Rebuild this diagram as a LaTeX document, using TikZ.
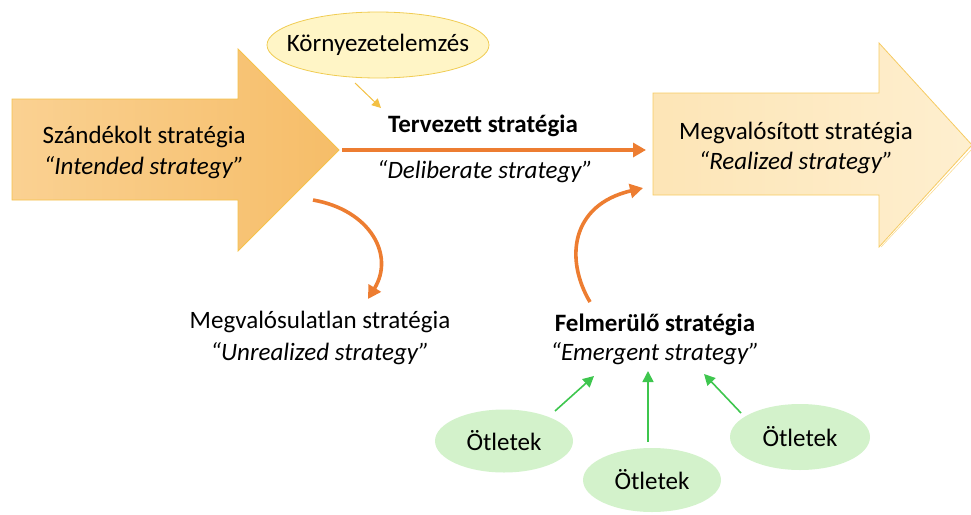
\documentclass[tikz,border=0pt]{standalone}
\usepackage{fontspec}
\setmainfont{Carlito}
\usetikzlibrary{arrows.meta,shapes.geometric}
\definecolor{arrowfillA}{HTML}{FAD192}
\definecolor{arrowfillB}{HTML}{F6BD68}
\definecolor{arrowedge}{HTML}{F5C24A}
\definecolor{realA}{HTML}{FDE5B6}
\definecolor{realB}{HTML}{FEEFCF}
\definecolor{realedge}{HTML}{F6CB62}
\definecolor{envfill}{HTML}{FFF5C6}
\definecolor{envedge}{HTML}{F0CC52}
\definecolor{flow}{HTML}{ED7D31}
\definecolor{ideafill}{HTML}{D3F2CB}
\definecolor{ideaarrow}{HTML}{3EC64E}
\definecolor{envarrow}{HTML}{F3C043}
\tikzset{
  lbl/.style={font=\fontsize{25}{30}\selectfont, inner sep=0pt},
  lblit/.style={font=\fontsize{25}{30}\selectfont\itshape, inner sep=0pt},
  lblbf/.style={font=\fontsize{25}{30}\selectfont\bfseries, inner sep=0pt},
  idea/.style={ellipse, fill=ideafill, minimum width=138pt, minimum height=63pt, inner xsep=-4pt, inner ysep=0pt, font=\fontsize{25}{30}\selectfont},
  flowarrow/.style={draw=flow, line width=3.6pt, -{Triangle[length=13pt,width=14pt]}},
  ideaflow/.style={draw=ideaarrow, line width=1.6pt, -{Triangle[length=11pt,width=11pt]}},
}
\begin{document}
\begin{tikzpicture}[x=1pt,y=-1pt]
\useasboundingbox (0,0) rectangle (971,514);
% intended strategy block arrow
\shade[left color=arrowfillA, right color=arrowfillB, draw=arrowedge, line width=0.8pt]
  (12,99) -- (238,99) -- (238,49) -- (339,150) -- (238,251) -- (238,200) -- (12,200) -- cycle;
\node[lbl] (intended) at (144,137) {Szándékolt stratégia};
\node[lblit] (intendedEn) at (144,168) {“Intended strategy”};
\coordinate (intendedTip) at (342,150);
% realized strategy block arrow
\shade[left color=realA, right color=realB, draw=realedge, line width=0.8pt]
  (653,93) -- (879,93) -- (879,43) -- (972,145) -- (879,247) -- (879,195) -- (653,195) -- cycle;
\draw[realedge!70, line width=0.6pt] (881,247) -- (972,149);
\node[lbl] (realized) at (796,133) {Megvalósított stratégia};
\node[lblit] (realizedEn) at (796,163) {“Realized strategy”};
\coordinate (realizedIn) at (646,150);
% environmental analysis
\node[ellipse, fill=envfill, draw=envedge, line width=0.8pt, minimum width=222pt, minimum height=66pt, inner xsep=-14pt, inner ysep=0pt, font=\fontsize{25}{30}\selectfont] (env) at (378,45) {Környezetelemzés};
% deliberate strategy
\node[lblbf] (deliberate) at (483,126) {Tervezett stratégia};
\node[lblit] (deliberateEn) at (485,172) {“Deliberate strategy”};
\coordinate (envEnd) at (381,108);
\draw[envarrow, line width=1pt, -{Triangle[length=9pt,width=9pt]}] (355,83) -- (envEnd);
\draw[flowarrow] (intendedTip) -- (realizedIn);
% unrealized strategy
\node[lbl] (unrealized) at (320,322) {Megvalósulatlan stratégia};
\node[lblit] (unrealizedEn) at (320,354) {“Unrealized strategy”};
\coordinate (unrStart) at (313,200);
\coordinate (unrEnd) at (368,299);
\draw[flowarrow] (unrStart) .. controls (370,210) and (395,255) .. (unrEnd);
% emergent strategy
\node[lblbf] (emergent) at (655,325) {Felmerülő stratégia};
\node[lblit] (emergentEn) at (655,354) {“Emergent strategy”};
\coordinate (emStart) at (590,302);
\coordinate (emEnd) at (643,188);
\draw[flowarrow] (emStart) .. controls (565,260) and (570,205) .. (emEnd);
% ideas
\node[idea] (idea1) at (504,441) {Ötletek};
\node[idea, minimum height=64pt] (idea2) at (652,480) {Ötletek};
\node[idea, minimum width=140pt, minimum height=66pt] (idea3) at (800,437) {Ötletek};
\coordinate (to1) at (594,376);
\coordinate (to2) at (648,371);
\coordinate (to3) at (704,374);
\draw[ideaflow] (555,411) -- (to1);
\draw[ideaflow] (idea2.north -| to2) ++(0,-6) -- (to2);
\draw[ideaflow] (741,413) -- (to3);
\end{tikzpicture}
\end{document}
